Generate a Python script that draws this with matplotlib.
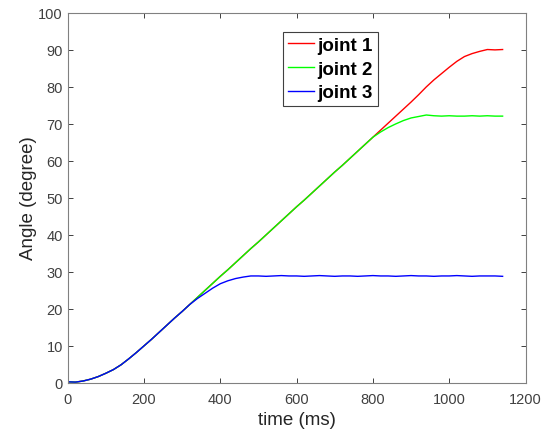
import numpy as np
import matplotlib
matplotlib.use('Agg')
from matplotlib import pyplot as plt

plt.rcParams['font.family'] = ['Liberation Sans', 'DejaVu Sans']

# time samples (ms), read every 20 ms off the picture
t = np.arange(0, 1141, 20)

# common rise shared by all joints up to 320 ms
rise = [0.2, 0.1, 0.4, 0.9, 1.6, 2.5, 3.5, 4.8, 6.4, 8.1,
        9.9, 11.7, 13.6, 15.5, 17.4, 19.2, 21.1]

# joint 1 (red) from 340 ms on
j1_tail = [23.0, 24.9, 26.8, 28.7, 30.5, 32.4, 34.3, 36.2, 38.0, 39.9,
           41.8, 43.7, 45.6, 47.5, 49.3, 51.2, 53.1, 55.0, 56.9, 58.7,
           60.6, 62.5, 64.4, 66.3, 68.2, 70.1, 72.0, 73.9, 75.8, 77.8,
           79.9, 81.8, 83.5, 85.2, 86.8, 88.1, 88.9, 89.5, 90.0, 89.9,
           90.0]
# joint 2 (green) from 340 ms on
j2_tail = [23.0, 24.9, 26.8, 28.7, 30.5, 32.4, 34.3, 36.2, 38.0, 39.9,
           41.8, 43.7, 45.6, 47.5, 49.3, 51.2, 53.1, 55.0, 56.9, 58.7,
           60.6, 62.5, 64.4, 66.3, 67.7, 68.9, 69.9, 70.8, 71.5, 71.9,
           72.3, 72.1, 72.0, 72.1, 72.0, 72.0, 72.1, 72.0, 72.1, 72.0,
           72.0]
# joint 3 (blue) from 340 ms on
j3_tail = [22.7, 24.1, 25.5, 26.7, 27.5, 28.1, 28.5, 28.8, 28.8, 28.7,
           28.8, 28.9, 28.8, 28.8, 28.7, 28.8, 28.9, 28.8, 28.7, 28.8,
           28.8, 28.7, 28.8, 28.9, 28.8, 28.8, 28.7, 28.8, 28.9, 28.8,
           28.8, 28.7, 28.8, 28.8, 28.9, 28.8, 28.7, 28.8, 28.8, 28.8,
           28.7]

joint1 = rise + j1_tail
joint2 = rise + j2_tail
joint3 = rise + j3_tail

xticks = [0, 200, 400, 600, 800, 1000, 1200]
yticks = list(range(0, 101, 10))

fig = plt.figure(figsize=(5.49, 4.39), dpi=100)
ax = fig.add_axes([0.1233, 0.1264, 0.8339, 0.8428])

ax.plot(t, joint1, color='#ff0000', lw=1.0, label='joint 1')
ax.plot(t, joint2, color='#00ff00', lw=1.0, label='joint 2')
ax.plot(t, joint3, color='#0000ff', lw=1.0, label='joint 3')

ax.set_xlim(0, 1200)
ax.set_ylim(0, 100)
ax.set_xticks(xticks)
ax.set_yticks(yticks)
ax.tick_params(direction='in', top=True, right=True, length=3.3, width=0.7,
               colors='#404040', labelsize=10.5)
ax.tick_params(axis='x', pad=6.5)
ax.tick_params(axis='y', pad=3.5)
for s in ax.spines.values():
    s.set_color('#808080')
    s.set_linewidth(0.8)

ax.set_xlabel('time (ms)', fontsize=13.5, color='#262626', labelpad=4)
ax.set_ylabel('Angle (degree)', fontsize=13.5, color='#262626', labelpad=1)

leg = ax.legend(loc='upper left', bbox_to_anchor=(0.470, 0.947),
                prop={'weight': 'bold', 'size': 13.5}, fancybox=False,
                framealpha=1, edgecolor='#404040', handlelength=1.4,
                handletextpad=0.2, borderpad=0.25, labelspacing=0.35,
                borderaxespad=0)
leg.get_frame().set_linewidth(0.8)

fig.savefig('out.png', dpi=100, facecolor='white')
